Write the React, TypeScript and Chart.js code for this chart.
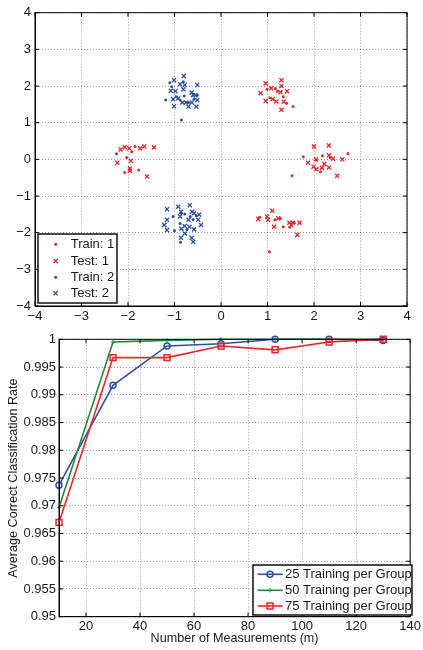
import React, { useEffect, useRef } from 'react';
import { Chart, registerables } from 'chart.js';

Chart.register(...registerables);

const FONT = "'Liberation Sans', Arial, Helvetica, sans-serif";
const RED = '#e8262c';
const BLUE = '#2f4fa6';
const GREEN = '#1f8a3c';
const TEXT = '#1a1a1a';

// ---------- Scatter data (top chart) ----------
const train1: [number, number][] = [
  [0.99, 1.91], [1.17, 1.93], [1.34, 1.71], [1.41, 1.53], [1.55, 1.44], [1.05, 1.68], [1.21, 1.86],
  [-2.25, 0.15], [-2.03, 0.05], [-1.77, -0.29], [-1.92, 0.21], [-2.07, -0.36], [-1.85, 0.35],
  [1.77, 0.07], [2.18, 0.10], [2.73, 0.16], [1.53, -0.45], [2.05, -0.02], [2.35, 0.05], [2.14, -0.34],
  [0.83, -1.58], [1.16, -1.65], [1.34, -1.84], [1.58, -1.73], [1.04, -2.52], [1.28, -1.61], [1.48, -1.85],
];
const test1: [number, number][] = [
  [0.96, 2.07], [1.30, 2.16], [0.85, 1.80], [1.08, 1.94], [1.30, 2.00], [1.28, 1.83], [1.42, 1.86],
  [0.96, 1.59], [1.11, 1.64], [1.19, 1.58], [1.35, 1.57], [1.30, 1.35],
  [-2.16, 0.27], [-2.07, 0.33], [-1.97, 0.30], [-1.74, 0.30], [-1.65, 0.35], [-1.44, 0.33],
  [-2.23, -0.09], [-1.94, -0.04], [-1.96, -0.25], [-1.96, -0.31], [-1.59, -0.47],
  [2.00, 0.35], [2.32, 0.38], [1.87, -0.09], [2.04, 0.00], [2.32, 0.11], [2.41, 0.02], [2.61, 0.00],
  [1.99, -0.20], [2.05, -0.27], [2.17, -0.23], [2.22, -0.13], [2.32, -0.22], [2.50, -0.45],
  [0.80, -1.63], [0.99, -1.56], [1.01, -1.65], [1.10, -1.40], [1.23, -1.61], [1.14, -1.84],
  [1.47, -1.73], [1.54, -1.73], [1.51, -1.79], [1.69, -1.73], [1.64, -2.06],
];
const train2: [number, number][] = [
  [-1.19, 1.62], [-1.10, 2.09], [-0.96, 1.71], [-0.51, 1.75], [-0.85, 1.07], [-0.81, 2.12],
  [-0.79, 1.73], [-0.70, 1.55], [-0.58, 1.64], [-1.06, 1.98], [-0.88, 1.62],
  [-1.03, -1.56], [-1.00, -1.95], [-0.60, -1.64], [-0.88, -1.75], [-0.86, -1.47], [-0.66, -1.56],
  [-0.73, -1.91], [-0.53, -1.54], [-0.78, -1.49], [-0.87, -2.26],
];
const test2: [number, number][] = [
  [-1.01, 2.16], [-1.08, 1.87], [-0.98, 1.86], [-0.88, 2.05], [-0.80, 2.27], [-0.78, 2.03],
  [-0.81, 1.91], [-1.03, 1.64], [-0.92, 1.66], [-0.83, 1.55], [-0.75, 1.55], [-0.63, 1.82],
  [-0.60, 1.75], [-0.55, 1.75], [-0.51, 1.62], [-0.63, 1.55], [-0.51, 2.03], [-0.53, 1.44],
  [-0.70, 1.44], [-1.01, 1.45],
  [-1.16, -1.36], [-1.16, -1.65], [-1.22, -1.79], [-1.16, -1.93], [-0.92, -1.29], [-0.86, -1.43],
  [-0.88, -1.56], [-0.67, -1.25], [-0.62, -1.43], [-0.58, -1.47], [-0.47, -1.51], [-0.43, -1.79],
  [-0.49, -1.65], [-0.70, -1.65], [-0.78, -1.82], [-0.85, -1.89], [-0.68, -1.84], [-0.58, -1.91],
  [-0.78, -2.02], [-0.86, -2.14], [-0.63, -2.14], [-0.60, -2.25],
];
const scatterTicks = [-4, -3, -2, -1, 0, 1, 2, 3, 4];

// ---------- Line data (bottom chart) ----------
const measurements = [10, 30, 50, 70, 90, 110, 130];
const rate25 = [0.9737, 0.9917, 0.9988, 0.9992, 1.0, 1.0, 0.9998];
const rate50 = [0.9697, 0.9995, 0.9998, 1.0, 1.0, 1.0, 1.0];
const rate75 = [0.967, 0.9967, 0.9967, 0.9988, 0.9981, 0.9995, 1.0];
const rateXTicks = [20, 40, 60, 80, 100, 120, 140];
const rateYTicks = [0.95, 0.955, 0.96, 0.965, 0.97, 0.975, 0.98, 0.985, 0.99, 0.995, 1];

const toXY = (arr: [number, number][]) => arr.map(([x, y]) => ({ x, y }));

function drawMarker(ctx: CanvasRenderingContext2D, style: string, x: number, y: number, r: number, color: string, bw: number) {
  ctx.save();
  ctx.strokeStyle = color;
  ctx.fillStyle = color;
  ctx.lineWidth = bw;
  ctx.beginPath();
  if (style === 'circle') {
    ctx.arc(x, y, r, 0, Math.PI * 2);
    ctx.fill();
  } else if (style === 'circleOpen') {
    ctx.arc(x, y, r, 0, Math.PI * 2);
    ctx.stroke();
  } else if (style === 'rect') {
    const s = r * Math.SQRT1_2;
    ctx.rect(x - s, y - s, 2 * s, 2 * s);
    ctx.stroke();
  } else if (style === 'cross') {
    ctx.moveTo(x - r, y); ctx.lineTo(x + r, y);
    ctx.moveTo(x, y - r); ctx.lineTo(x, y + r);
    ctx.stroke();
  } else if (style === 'crossRot') {
    const s = r * Math.SQRT1_2;
    ctx.moveTo(x - s, y - s); ctx.lineTo(x + s, y + s);
    ctx.moveTo(x - s, y + s); ctx.lineTo(x + s, y - s);
    ctx.stroke();
  }
  ctx.restore();
}

const matlabFrame = {
  id: 'matlabFrame',
  afterDatasetsDraw(chart: any) {
    const { ctx, chartArea } = chart;
    const { left, right, top, bottom } = chartArea;
    const xs = chart.scales.x;
    const ys = chart.scales.y;
    const tl = 4;
    ctx.save();
    ctx.strokeStyle = '#000';
    ctx.lineWidth = 1;
    ctx.beginPath();
    xs.ticks.forEach((t: any) => {
      const px = xs.getPixelForValue(t.value);
      ctx.moveTo(px, bottom); ctx.lineTo(px, bottom - tl);
      ctx.moveTo(px, top); ctx.lineTo(px, top + tl);
    });
    ys.ticks.forEach((t: any) => {
      const py = ys.getPixelForValue(t.value);
      ctx.moveTo(left, py); ctx.lineTo(left + tl, py);
      ctx.moveTo(right, py); ctx.lineTo(right - tl, py);
    });
    ctx.stroke();
    ctx.strokeRect(left, top, right - left, bottom - top);
    ctx.restore();
  },
};

const boxLegend = {
  id: 'boxLegend',
  afterDraw(chart: any, _args: any, opts: any) {
    if (!opts || !opts.box) return;
    const { ctx } = chart;
    const [bx, by, bw, bh] = opts.box;
    ctx.save();
    ctx.fillStyle = '#fff';
    ctx.fillRect(bx, by, bw, bh);
    ctx.strokeStyle = '#000';
    ctx.lineWidth = 1.4;
    ctx.strokeRect(bx, by, bw, bh);
    ctx.font = `${opts.fontSize}px ${FONT}`;
    ctx.textBaseline = 'middle';
    ctx.textAlign = 'left';
    chart.data.datasets.forEach((ds: any, i: number) => {
      const y = opts.rows[i];
      const color = ds.borderColor;
      if (opts.line) {
        ctx.strokeStyle = color;
        ctx.lineWidth = ds.borderWidth;
        ctx.beginPath();
        ctx.moveTo(opts.lineX[0], y);
        ctx.lineTo(opts.lineX[1], y);
        ctx.stroke();
      }
      const style = ds.legendMarker || ds.pointStyle;
      drawMarker(ctx, style, opts.markerX, y, ds.pointRadius, ds.pointBorderColor || color, ds.pointBorderWidth ?? 1.2);
      ctx.fillStyle = TEXT;
      ctx.fillText(ds.label, opts.textX, y + 0.5);
    });
    ctx.restore();
  },
};

const minusFmt = (v: number) => (v < 0 ? '\u2212' + Math.abs(v) : String(v));

const gridOpts = { color: 'rgba(0,0,0,0.38)', lineWidth: 1, drawTicks: false };
const borderOpts = { display: true, color: '#000', dash: [1, 2] };

function ScatterChart() {
  const ref = useRef<HTMLCanvasElement>(null);
  useEffect(() => {
    const chart = new Chart(ref.current as HTMLCanvasElement, {
      type: 'scatter',
      data: {
        datasets: [
          { label: 'Train: 1', data: toXY(train1), pointStyle: 'circle', pointRadius: 1.5, backgroundColor: RED, borderColor: RED, pointBorderWidth: 0, legendMarker: 'circle' } as any,
          { label: 'Test: 1', data: toXY(test1), pointStyle: 'crossRot', pointRadius: 2.9, backgroundColor: RED, borderColor: RED, pointBorderWidth: 1.3 } as any,
          { label: 'Train: 2', data: toXY(train2), pointStyle: 'circle', pointRadius: 1.5, backgroundColor: BLUE, borderColor: BLUE, pointBorderWidth: 0, legendMarker: 'circle' } as any,
          { label: 'Test: 2', data: toXY(test2), pointStyle: 'crossRot', pointRadius: 2.9, backgroundColor: BLUE, borderColor: BLUE, pointBorderWidth: 1.3 } as any,
        ],
      },
      options: {
        animation: false,
        responsive: false,
        events: [],
        layout: { padding: { top: 12.7, right: 16, left: 0, bottom: 0 } },
        plugins: {
          legend: { display: false },
          tooltip: { enabled: false },
          boxLegend: { box: [38, 234, 79, 69], rows: [244.3, 261, 277.3, 293.3], markerX: 55.7, textX: 70.7, line: false, fontSize: 13 },
        } as any,
        scales: {
          x: {
            type: 'linear', min: -4, max: 4,
            afterBuildTicks: (s: any) => { s.ticks = scatterTicks.map((v) => ({ value: v })); },
            afterFit: (s: any) => { s.height = 19; },
            grid: gridOpts, border: borderOpts,
            ticks: { font: { family: FONT, size: 13 }, color: TEXT, padding: 3, callback: (v: any) => minusFmt(Number(v)), maxRotation: 0, autoSkip: false },
          },
          y: {
            type: 'linear', min: -4, max: 4,
            afterBuildTicks: (s: any) => { s.ticks = scatterTicks.map((v) => ({ value: v })); },
            afterFit: (s: any) => { s.width = 35; },
            grid: gridOpts, border: borderOpts,
            ticks: { font: { family: FONT, size: 13 }, color: TEXT, padding: 4, callback: (v: any) => minusFmt(Number(v)), autoSkip: false },
          },
        } as any,
      },
      plugins: [matlabFrame, boxLegend],
    });
    return () => chart.destroy();
  }, []);
  return <canvas ref={ref} width={423} height={325} style={{ display: 'block', width: 423, height: 325 }} />;
}

function RateChart() {
  const ref = useRef<HTMLCanvasElement>(null);
  useEffect(() => {
    const mk = (vals: number[]) => measurements.map((x, i) => ({ x, y: vals[i] }));
    const chart = new Chart(ref.current as HTMLCanvasElement, {
      type: 'line',
      data: {
        datasets: [
          { label: '25 Training per Group', data: mk(rate25), borderColor: BLUE, backgroundColor: 'rgba(0,0,0,0)', borderWidth: 1.6, pointStyle: 'circle', pointRadius: 3.0, pointBorderWidth: 1.5, pointBorderColor: BLUE, pointBackgroundColor: 'rgba(0,0,0,0)', legendMarker: 'circleOpen', clip: false, order: 3, tension: 0 } as any,
          { label: '50 Training per Group', data: mk(rate50), borderColor: GREEN, backgroundColor: 'rgba(0,0,0,0)', borderWidth: 1.6, pointStyle: 'cross', pointRadius: 2.2, pointBorderWidth: 1, pointBorderColor: GREEN, clip: false, order: 2, tension: 0 } as any,
          { label: '75 Training per Group', data: mk(rate75), borderColor: RED, backgroundColor: 'rgba(0,0,0,0)', borderWidth: 1.6, pointStyle: 'rect', pointRadius: 4.2, pointBorderWidth: 1.5, pointBorderColor: RED, pointBackgroundColor: 'rgba(0,0,0,0)', clip: false, order: 1, tension: 0 } as any,
        ],
      },
      options: {
        animation: false,
        responsive: false,
        events: [],
        layout: { padding: { top: 14.3, right: 10, left: 0, bottom: 0 } },
        plugins: {
          legend: { display: false },
          tooltip: { enabled: false },
          boxLegend: { box: [253, 240, 159, 50], rows: [249.3, 265.3, 281], lineX: [257.7, 282.7], markerX: 270, textX: 285, line: true, fontSize: 13 },
        } as any,
        scales: {
          x: {
            type: 'linear', min: 10, max: 140,
            afterBuildTicks: (s: any) => { s.ticks = rateXTicks.map((v) => ({ value: v })); },
            afterFit: (s: any) => { s.height = 33.3; },
            grid: gridOpts, border: borderOpts,
            ticks: { font: { family: FONT, size: 13 }, color: TEXT, padding: 2, maxRotation: 0, autoSkip: false },
            title: { display: true, text: 'Number of Measurements (m)', font: { family: FONT, size: 12.6 }, color: TEXT, padding: { top: 0, bottom: 3.5 } },
          },
          y: {
            type: 'linear', min: 0.95, max: 1,
            afterBuildTicks: (s: any) => { s.ticks = rateYTicks.map((v) => ({ value: v })); },
            afterFit: (s: any) => { s.width = 59; },
            grid: gridOpts, border: borderOpts,
            ticks: { font: { family: FONT, size: 13 }, color: TEXT, padding: 3, autoSkip: false, callback: (v: any) => String(Number(Number(v).toFixed(3))) },
            title: { display: true, text: 'Average Correct Classification Rate', font: { family: FONT, size: 12.6 }, color: TEXT, padding: { top: 5.8, bottom: 0 } },
          },
        } as any,
      },
      plugins: [matlabFrame, boxLegend],
    });
    return () => chart.destroy();
  }, []);
  return <canvas ref={ref} width={423} height={325} style={{ display: 'block', width: 423, height: 325 }} />;
}

export default function App() {
  return (
    <div style={{ position: 'absolute', left: 0, top: 0, width: 423, height: 650, background: '#fff' }}>
      <ScatterChart />
      <RateChart />
    </div>
  );
}
